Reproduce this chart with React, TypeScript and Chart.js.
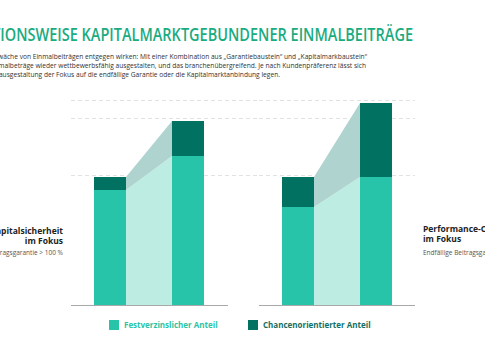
import React, { useEffect, useRef } from "react";
import { Chart, registerables } from "chart.js";

Chart.register(...registerables);

// ---- Data ----
const categories = ["Beginn", "Ablauf"];
const leftFixed = [115, 149];
const leftChance = [13, 35];
const rightFixed = [98, 128];
const rightChance = [30, 74];
const gridValues = [130, 187, 205];
const yMax = 205;
const seriesNames = ["Festverzinslicher Anteil", "Chancenorientierter Anteil"];

// ---- Styles ----
const LIGHT = "#27c4a9";
const DARK = "#017161";
const CONN_LIGHT = "#bdece3";
const CONN_GRAY = "#afd3cf";
const FONT = "'Open Sans', 'Noto Sans', sans-serif";

const gridPlugin = {
  id: "dashGrid",
  beforeDatasetsDraw(chart: any) {
    const { ctx, chartArea } = chart;
    const y = chart.scales.y;
    ctx.save();
    ctx.strokeStyle = "#e2e2e2";
    ctx.lineWidth = 1;
    ctx.setLineDash([4, 3]);
    gridValues.forEach((v) => {
      const py = Math.round(y.getPixelForValue(v)) + 0.5;
      ctx.beginPath();
      ctx.moveTo(chartArea.left, py);
      ctx.lineTo(chart.width, py);
      ctx.stroke();
    });
    ctx.restore();
  },
};

const connectorPlugin = {
  id: "connector",
  beforeDatasetsDraw(chart: any) {
    const ctx = chart.ctx;
    const f = chart.getDatasetMeta(0).data as any[];
    const c = chart.getDatasetMeta(1).data as any[];
    if (f.length < 2 || c.length < 2) return;
    const xa = f[0].x + f[0].width / 2;
    const xb = f[1].x - f[1].width / 2;
    ctx.save();
    ctx.fillStyle = CONN_LIGHT;
    ctx.beginPath();
    ctx.moveTo(xa, f[0].y);
    ctx.lineTo(xb, f[1].y);
    ctx.lineTo(xb, f[1].base);
    ctx.lineTo(xa, f[0].base);
    ctx.closePath();
    ctx.fill();
    ctx.fillStyle = CONN_GRAY;
    ctx.beginPath();
    ctx.moveTo(xa, c[0].y);
    ctx.lineTo(xb, c[1].y);
    ctx.lineTo(xb, f[1].y);
    ctx.lineTo(xa, f[0].y);
    ctx.closePath();
    ctx.fill();
    ctx.restore();
  },
};

function BarChart({ fixed, chance, padRight }: { fixed: number[]; chance: number[]; padRight: number }) {
  const ref = useRef<HTMLCanvasElement>(null);
  useEffect(() => {
    if (!ref.current) return;
    const chart = new Chart(ref.current, {
      type: "bar",
      data: {
        labels: categories,
        datasets: [
          { label: seriesNames[0], data: fixed, backgroundColor: LIGHT, stack: "s" },
          { label: seriesNames[1], data: chance, backgroundColor: DARK, stack: "s" },
        ],
      },
      options: {
        animation: false,
        responsive: false,
        layout: { padding: { top: 1, bottom: 3, left: 0, right: padRight } },
        plugins: { legend: { display: false }, tooltip: { enabled: false } },
        datasets: { bar: { barPercentage: 0.41, categoryPercentage: 1 } },
        scales: {
          x: {
            stacked: true,
            ticks: { display: false },
            grid: { display: false, drawTicks: false },
            border: { display: true, color: "#a9a9a9", width: 1 },
          },
          y: { stacked: true, display: false, min: 0, max: yMax },
        },
      } as any,
      plugins: [gridPlugin, connectorPlugin],
    });
    return () => chart.destroy();
  }, []);
  return <canvas ref={ref} width={156 + padRight} height={209} style={{ width: 156 + padRight, height: 209, display: "block" }} />;
}

export default function App() {
  const abs = (s: React.CSSProperties): React.CSSProperties => ({ position: "absolute", whiteSpace: "nowrap", ...s });
  const para: React.CSSProperties = { fontSize: 6.65, lineHeight: "9px", color: "#333" };
  return (
    <div style={{ position: "absolute", left: 0, top: 0, width: 485, height: 360, overflow: "hidden", background: "#fff", fontFamily: FONT }}>
      <div
        style={abs({
          right: 485 - 413,
          top: 29,
          fontSize: 14.5,
          lineHeight: "14.5px",
          fontWeight: 600,
          color: "#1aab7f",
          transform: "scaleY(1.18)",
          transformOrigin: "50% 13px",
        })}
      >
        FUNKTIONSWEISE KAPITALMARKTGEBUNDENER EINMALBEITRÄGE
      </div>
      <div style={abs({ right: 485 - 367, top: 52, ...para })}>
        Schwäche von Einmalbeiträgen entgegen wirken: Mit einer Kombination aus „Garantiebaustein“ und „Kapitalmarkbaustein“
      </div>
      <div style={abs({ right: 485 - 366, top: 61, ...para })}>
        Einmalbeträge wieder wettbewerbsfähig ausgestalten, und das branchenübergreifend. Je nach Kundenpräferenz lässt sich
      </div>
      <div style={abs({ right: 485 - 280, top: 70, ...para })}>
        Produktausgestaltung der Fokus auf die endfällige Garantie oder die Kapitalmarktanbindung legen.
      </div>

      <div style={abs({ left: 71, top: 99 })}>
        <BarChart fixed={leftFixed} chance={leftChance} padRight={32} />
      </div>
      <div style={abs({ left: 259, top: 99 })}>
        <BarChart fixed={rightFixed} chance={rightChance} padRight={0} />
      </div>

      <div style={abs({ right: 485 - 63, top: 226, textAlign: "right", fontSize: 8.5, lineHeight: "10px", fontWeight: 700, color: "#222" })}>
        Kapitalsicherheit
        <br />
        im Fokus
      </div>
      <div style={abs({ right: 485 - 63, top: 249, fontSize: 6.5, lineHeight: "8px", color: "#555" })}>
        Endfällige Beitragsgarantie &gt; 100 %
      </div>

      <div style={abs({ left: 423, top: 224, fontSize: 8.5, lineHeight: "10px", fontWeight: 700, color: "#222" })}>
        Performance-Chancen
        <br />
        im Fokus
      </div>
      <div style={abs({ left: 423, top: 249, fontSize: 6.5, lineHeight: "8px", color: "#555" })}>
        Endfällige Beitragsgarantie &lt; 100 %
      </div>

      <div style={abs({ left: 109, top: 320, width: 10, height: 10, background: LIGHT })} />
      <div style={abs({ left: 124, top: 319, fontSize: 8, lineHeight: "12px", fontWeight: 700, color: "#2ac4a6" })}>
        {seriesNames[0]}
      </div>
      <div style={abs({ left: 248, top: 320, width: 10, height: 10, background: DARK })} />
      <div style={abs({ left: 263, top: 319, fontSize: 8, lineHeight: "12px", fontWeight: 700, color: "#136f62" })}>
        {seriesNames[1]}
      </div>
    </div>
  );
}
